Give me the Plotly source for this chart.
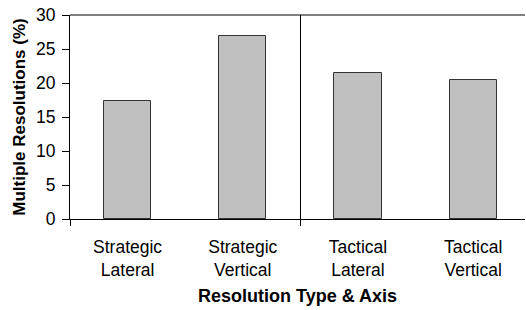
import plotly.graph_objects as go

categories = ["Strategic<br>Lateral", "Strategic<br>Vertical", "Tactical<br>Lateral", "Tactical<br>Vertical"]
values = [17.4, 26.9, 21.5, 20.4]
y_ticks = [0, 5, 10, 15, 20, 25, 30]
positions = list(range(len(categories)))
group_bounds = [-0.5, 1.5, 3.5]

fig = go.Figure()
fig.add_trace(go.Bar(
    x=positions, y=values, width=0.41,
    marker=dict(color="#C0C0C0", line=dict(color="#333333", width=1)),
    showlegend=False, hoverinfo="skip",
))
fig.add_trace(go.Scatter(x=[group_bounds[0]], y=[0], xaxis="x2", mode="markers",
                         marker=dict(opacity=0), showlegend=False, hoverinfo="skip"))

xr = [-0.5, 3.45]
FONT = "Arial, Liberation Sans, sans-serif"
fig.update_layout(
    width=526, height=310,
    margin=dict(l=70, r=1, t=15, b=91, autoexpand=False),
    paper_bgcolor="white", plot_bgcolor="white",
    font=dict(family=FONT, color="black", size=17),
    bargap=0,
    xaxis=dict(
        range=xr, tickvals=positions, ticktext=categories, ticks="",
        showline=True, linecolor="black", linewidth=1, showgrid=False, zeroline=False,
        tickfont=dict(size=17.5), automargin=False, ticklabelstandoff=12,
        title=dict(text="<b>Resolution Type & Axis</b>", font=dict(size=18), standoff=10),
    ),
    xaxis2=dict(
        range=xr, overlaying="x", side="bottom", tickvals=group_bounds,
        showticklabels=False, ticks="outside", ticklen=6, tickcolor="black", tickwidth=1,
        showgrid=True, gridcolor="black", gridwidth=1, showline=False, zeroline=False,
        automargin=False,
    ),
    yaxis=dict(
        range=[0, 30], tickvals=y_ticks, ticks="outside", ticklen=7, tickcolor="black",
        showline=True, linecolor="black", linewidth=1, showgrid=False, zeroline=False,
        tickfont=dict(size=17.5), automargin=False, ticklabelstandoff=3,
        title=dict(text="<b>Multiple Resolutions (%)</b>", font=dict(size=17), standoff=6),
    ),
    shapes=[dict(type="line", xref="paper", yref="paper", x0=0, x1=1, y0=1, y1=1,
                 line=dict(color="black", width=1))],
)

fig.write_html("out.html", config={"displayModeBar": False},
               post_script="document.body.style.margin='0';document.body.style.overflow='hidden';")
